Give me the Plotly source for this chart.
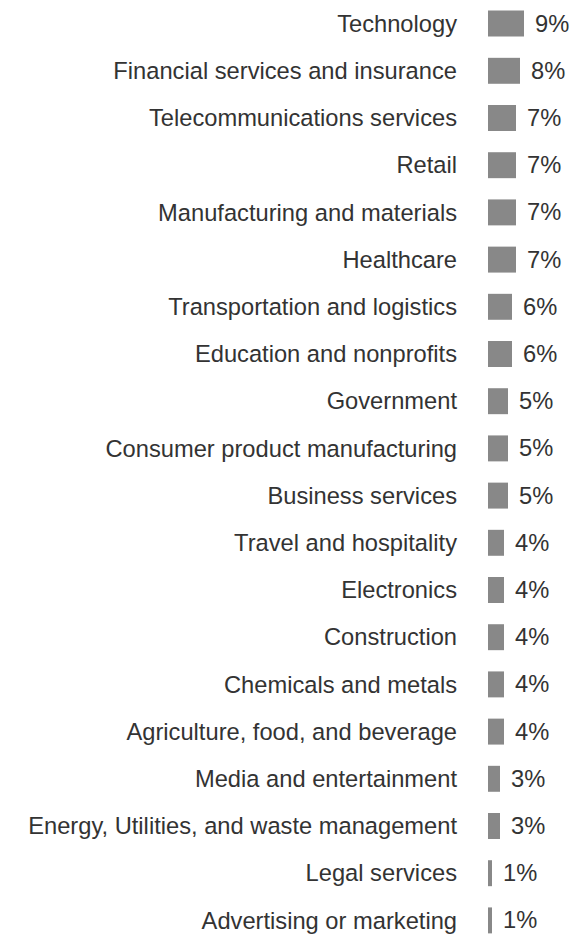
import plotly.graph_objects as go

categories = [
    "Technology", "Financial services and insurance", "Telecommunications services",
    "Retail", "Manufacturing and materials", "Healthcare",
    "Transportation and logistics", "Education and nonprofits", "Government",
    "Consumer product manufacturing", "Business services", "Travel and hospitality",
    "Electronics", "Construction", "Chemicals and metals",
    "Agriculture, food, and beverage", "Media and entertainment",
    "Energy, Utilities, and waste management", "Legal services",
    "Advertising or marketing",
]
values = [9, 8, 7, 7, 7, 7, 6, 6, 5, 5, 5, 4, 4, 4, 4, 4, 3, 3, 1, 1]
value_labels = [f"{v}%" for v in values]

W, H = 579, 935
LEFT = 488
row_px = 47.2
n_visible = H / row_px
FONT = "Liberation Sans, Arial, Helvetica, sans-serif"
FS = 23.7
TXT = "#333333"

fig = go.Figure()
fig.add_trace(go.Bar(
    x=values, y=categories, orientation="h",
    marker=dict(color="#888888", line=dict(width=0)),
    width=0.55, hoverinfo="skip",
))
for c, v, t in zip(categories, values, value_labels):
    fig.add_annotation(x=v, y=c, text=t, showarrow=False, xanchor="left",
                       xshift=9, font=dict(size=FS, color=TXT, family=FONT))

fig.update_layout(
    width=W, height=H,
    margin=dict(l=LEFT, r=0, t=0, b=0),
    paper_bgcolor="white", plot_bgcolor="white",
    showlegend=False,
    font=dict(family=FONT, size=FS, color=TXT),
    xaxis=dict(range=[0, (W - LEFT) / 4.0], visible=False, fixedrange=True),
    yaxis=dict(
        type="category", categoryorder="array", categoryarray=categories,
        range=[-0.5 + n_visible, -0.5], showgrid=False, zeroline=False,
        showline=False, ticks="", ticklabelstandoff=30,
        tickfont=dict(size=FS, color=TXT), automargin=False, fixedrange=True,
    ),
)
fig.write_html(
    "out.html",
    config={"displayModeBar": False, "staticPlot": True},
    post_script="document.body.style.margin='0';document.body.style.overflow='hidden';",
)
